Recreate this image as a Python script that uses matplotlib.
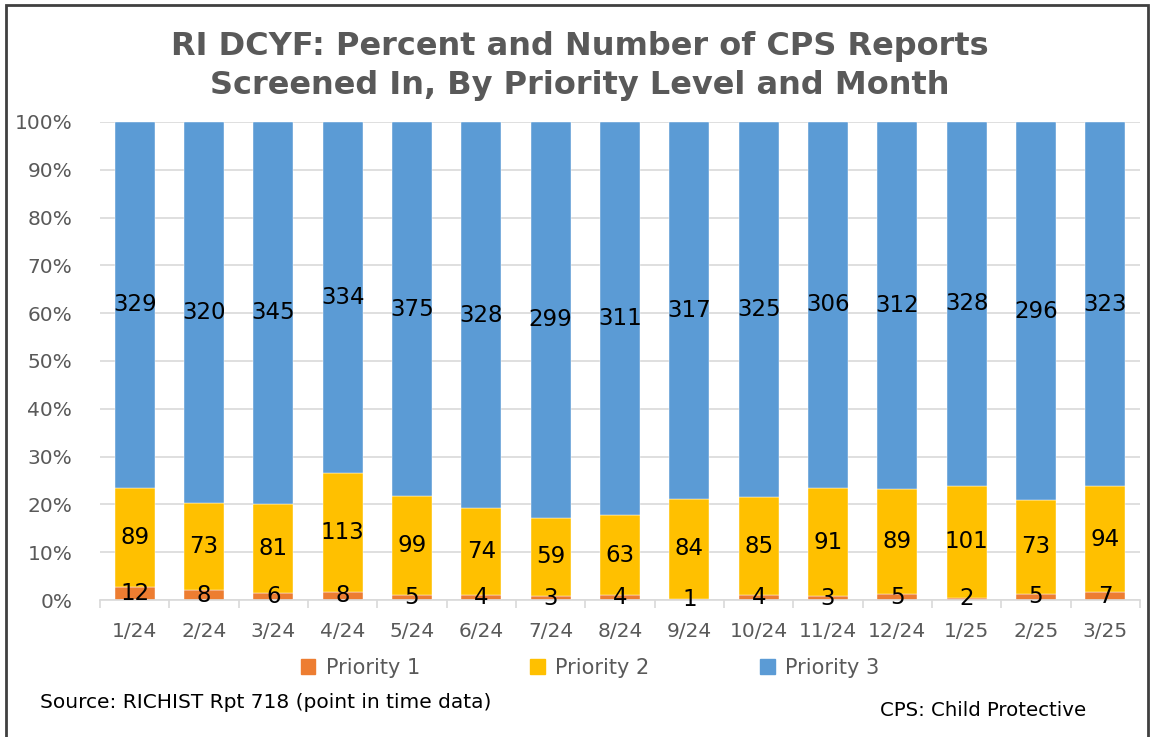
import matplotlib
matplotlib.use("Agg")
import matplotlib.pyplot as plt
import numpy as np
from matplotlib.patches import Rectangle

months = ["1/24", "2/24", "3/24", "4/24", "5/24", "6/24", "7/24", "8/24", "9/24",
          "10/24", "11/24", "12/24", "1/25", "2/25", "3/25"]
priority1 = [12, 8, 6, 8, 5, 4, 3, 4, 1, 4, 3, 5, 2, 5, 7]
priority2 = [89, 73, 81, 113, 99, 74, 59, 63, 84, 85, 91, 89, 101, 73, 94]
priority3 = [329, 320, 345, 334, 375, 328, 299, 311, 317, 325, 306, 312, 328, 296, 323]
series_names = ["Priority 1", "Priority 2", "Priority 3"]
colors = ["#ED7D31", "#FFC000", "#5B9BD5"]

plt.rcParams['font.family'] = ['DejaVu Sans']

W, H = 1153, 737
fig = plt.figure(figsize=(W / 100, H / 100), dpi=100)
ax = fig.add_axes([100 / W, 1 - 600 / H, 1040 / W, (600 - 122) / H])

p1 = np.array(priority1, float)
p2 = np.array(priority2, float)
p3 = np.array(priority3, float)
tot = p1 + p2 + p3
x = np.arange(len(months))
bottom = np.zeros(len(months))
for vals, col, name in zip([p1, p2, p3], colors, series_names):
    pct = vals / tot * 100
    ax.bar(x, pct, 0.58, bottom=bottom, color=col, label=name, zorder=2,
           edgecolor="white", linewidth=0.3)
    for xi, b, h, v in zip(x, bottom, pct, vals):
        ax.text(xi, b + h / 2, f"{int(v)}", ha="center", va="center",
                fontsize=16.5, color="black", zorder=3)
    bottom = bottom + pct

ax.set_xlim(-0.5, len(months) - 0.5)
ax.set_ylim(0, 100)
ax.set_yticks(np.arange(0, 101, 10))
ax.set_yticklabels([f"{v}%" for v in range(0, 101, 10)], fontsize=14.5, color="#595959")
ax.set_xticks(x)
ax.set_xticklabels(months, fontsize=14.5, color="#595959")
ax.tick_params(axis="y", length=0, pad=20)
ax.tick_params(axis="x", length=0, pad=16)
ax.set_xticks(np.arange(-0.5, len(months), 1), minor=True)
ax.tick_params(axis="x", which="minor", length=6, color="#D9D9D9", width=1.2)
ax.grid(axis="y", color="#D9D9D9", linewidth=1.2, zorder=0)
for s in ["top", "right", "left"]:
    ax.spines[s].set_visible(False)
ax.spines["bottom"].set_color("#D9D9D9")
ax.spines["bottom"].set_linewidth(1.2)

fig.text(580 / W, 1 - 66 / H, "RI DCYF: Percent and Number of CPS Reports\nScreened In, By Priority Level and Month",
         ha="center", va="center", fontsize=23, fontweight="bold", color="#595959",
         linespacing=1.3)

handles = [Rectangle((0, 0), 1, 1, color=c) for c in colors]
fig.legend(handles, series_names, loc="center", bbox_to_anchor=(590 / W, 1 - 668 / H),
           ncol=3, frameon=False, fontsize=15, labelcolor="#595959",
           handlelength=0.7, handleheight=0.7, columnspacing=5.3, handletextpad=0.5)

fig.text(40 / W, 1 - 703 / H, "Source: RICHIST Rpt 718 (point in time data)",
         ha="left", va="center", fontsize=14.5, color="black")
fig.text(880 / W, 1 - 711 / H, "CPS: Child Protective",
         ha="left", va="center", fontsize=14.2, color="black")

fig.add_artist(Rectangle((6 / W, -0.05), (1148 - 6) / W, 1.05 - 5 / H,
                         transform=fig.transFigure, fill=False,
                         edgecolor="#404040", linewidth=2))

fig.savefig("out.png", dpi=100)
